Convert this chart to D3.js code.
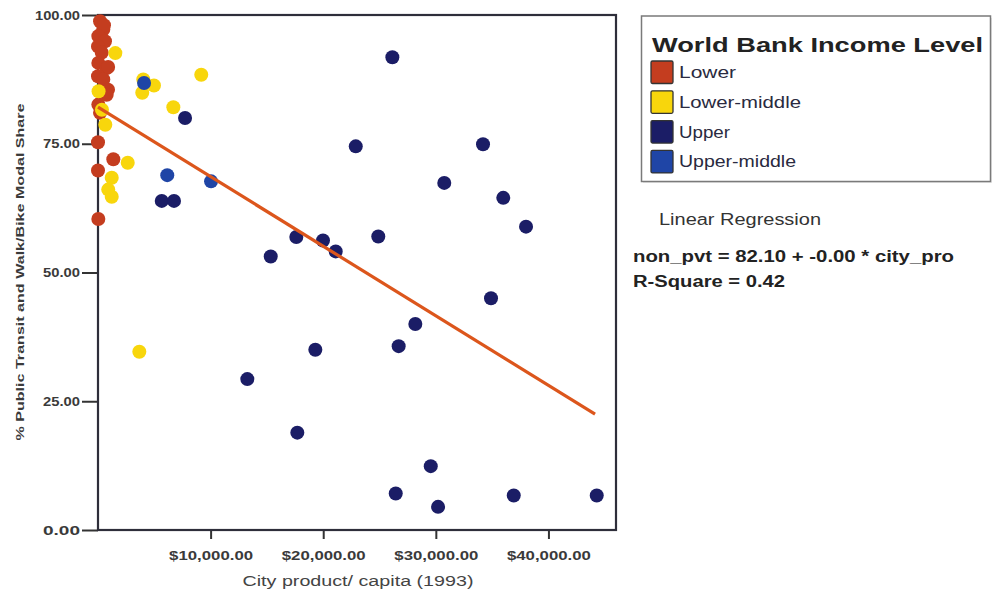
<!DOCTYPE html>
<html>
<head>
<meta charset="utf-8">
<script src="https://cdn.jsdelivr.net/npm/d3@7/dist/d3.min.js"></script>
<style>
  html, body { margin: 0; padding: 0; background: #fff; }
  svg { display: block; font-family: "Liberation Sans", Arial, sans-serif; }
</style>
</head>
<body>
<svg id="chart" width="993" height="598"></svg>
<script>
// Income groups, in legend order
const groups = ["Lower", "Lower-middle", "Upper", "Upper-middle"];
const groupColors = ["#c43d1f", "#f8d60c", "#1b1d66", "#1f45a6"];

// City product per capita (1993, US$) and public transit + walk/bike modal share (%)
const lowerX = [180, 470, 530, 30, 620, 0, 330, 30, 770, 900, 0, 470, 890, 770, 30, 180, 0, 1360, 0, 30];
const lowerY = [98.8, 97.2, 98.0, 95.9, 94.9, 93.9, 92.7, 90.7, 89.7, 89.9, 88.1, 87.5, 85.5, 84.5, 82.6, 81.0, 75.3, 72.0, 69.8, 60.4];

const lowerMidX = [1540, 50, 350, 650, 9170, 4020, 4970, 3930, 6690, 2640, 1220, 910, 1220, 3670];
const lowerMidY = [92.6, 85.2, 81.6, 78.7, 88.4, 87.5, 86.3, 84.9, 82.1, 71.3, 68.4, 66.1, 64.7, 34.6];

const upperX = [7730, 5660, 6750, 26140, 22890, 34190, 30750, 35990, 38010, 24890, 17610, 19980, 21110, 15340,
                34900, 28180, 26700, 19300, 13260, 17700, 29550, 26440, 30200, 36920, 44290];
const upperY = [80.0, 63.9, 63.9, 91.8, 74.5, 74.9, 67.4, 64.5, 58.9, 57.0, 56.9, 56.2, 54.1, 53.1,
                45.0, 40.0, 35.7, 35.0, 29.3, 18.9, 12.4, 7.1, 4.5, 6.7, 6.7];

const upperMidX = [4090, 6150, 10040];
const upperMidY = [86.8, 68.9, 67.7];

// Fitted linear regression: non_pvt = 82.10 + b * city_pro
const regIntercept = 82.10;
const regSlope = -0.00135;
const regRange = [0, 44140];
const rSquare = 0.42;

// Axis ticks
const xTicks = [10000, 20000, 30000, 40000];
const yTicks = [0, 25, 50, 75, 100];

const seriesX = [lowerX, lowerMidX, upperX, upperMidX];
const seriesY = [lowerY, lowerMidY, upperY, upperMidY];

const svg = d3.select("#chart");
const plotLeft = 98, plotRight = 616, plotTop = 15, plotBottom = 530;

const x = d3.scaleLinear().domain([0, 46000]).range([plotLeft, plotRight]);
const y = d3.scaleLinear().domain([0, 100]).range([plotBottom, plotTop]);

function label(sel, str, px, py, size, weight, len, anchor, fill) {
  const t = sel.append("text")
    .attr("x", px).attr("y", py)
    .attr("font-size", size)
    .attr("font-weight", weight || "normal")
    .attr("fill", fill || "#333")
    .attr("text-anchor", anchor || "start")
    .text(str);
  if (len) t.attr("textLength", len).attr("lengthAdjust", "spacingAndGlyphs");
  return t;
}

// Axes
const fmtMoney = d => "$" + d3.format(",.2f")(d);
const gx = svg.append("g").attr("transform", `translate(0,${plotBottom})`)
  .call(d3.axisBottom(x).tickValues(xTicks).tickFormat(fmtMoney).tickSize(9).tickPadding(11));
gx.selectAll("text").attr("font-size", 13.5).attr("font-weight", "bold").attr("fill", "#3a3a3a")
  .attr("font-family", "Liberation Sans, Arial, sans-serif")
  .attr("textLength", 84).attr("lengthAdjust", "spacingAndGlyphs");

const gy = svg.append("g").attr("transform", `translate(${plotLeft},0)`)
  .call(d3.axisLeft(y).tickValues(yTicks).tickFormat(d3.format(".2f")).tickSize(16).tickPadding(2));
gy.selectAll("text").attr("font-size", 13).attr("font-weight", "bold").attr("fill", "#3a3a3a")
  .attr("font-family", "Liberation Sans, Arial, sans-serif")
  .each(function (d) {
    d3.select(this).attr("textLength", d === 100 ? 45 : 37).attr("lengthAdjust", "spacingAndGlyphs");
  });

[gx, gy].forEach(g => {
  g.select(".domain").remove();
  g.selectAll(".tick line").attr("stroke", "#333").attr("stroke-width", 2);
});

// Plot frame
svg.append("rect")
  .attr("x", plotLeft).attr("y", plotTop)
  .attr("width", plotRight - plotLeft).attr("height", plotBottom - plotTop)
  .attr("fill", "none").attr("stroke", "#2e2e3a").attr("stroke-width", 2.2);

// Points
groups.forEach((gname, i) => {
  const pts = seriesX[i].map((v, j) => [v, seriesY[i][j]]);
  svg.append("g").attr("class", "series-" + i)
    .selectAll("circle").data(pts).join("circle")
    .attr("cx", d => x(d[0]))
    .attr("cy", d => y(d[1]))
    .attr("r", 7)
    .attr("fill", groupColors[i]);
});

// Regression line
const regLine = regRange.map(v => [v, regIntercept + regSlope * v]);
svg.append("path")
  .datum(regLine)
  .attr("d", d3.line().x(d => x(d[0])).y(d => y(d[1])))
  .attr("stroke", "#dc561c").attr("stroke-width", 3.2).attr("fill", "none");

// Axis titles
label(svg, "City product/ capita (1993)", 358, 586, 15.5, "normal", 231, "middle", "#444");
label(svg, "% Public Transit and Walk/Bike Modal Share", 0, 0, 11.5, "bold", 337, "middle", "#3a3a3a")
  .attr("transform", "translate(24,272) rotate(-90)");

// Legend
const lg = svg.append("g");
lg.append("rect").attr("x", 643).attr("y", 18).attr("width", 349).attr("height", 165)
  .attr("fill", "#d8d8d8").attr("opacity", 0.6);
lg.append("rect").attr("x", 641.5).attr("y", 16).attr("width", 349).attr("height", 165.5)
  .attr("fill", "#fff").attr("stroke", "#7a7a7a").attr("stroke-width", 1.5);
label(lg, "World Bank Income Level", 652, 52, 19.5, "bold", 331, "start", "#222");
const labelLens = [57, 122, 51, 117];
groups.forEach((gname, i) => {
  const yy = 61 + i * 29.8;
  lg.append("rect").attr("x", 651).attr("y", yy).attr("width", 22).attr("height", 22.5)
    .attr("fill", groupColors[i]).attr("stroke", "#333").attr("stroke-width", 1.3).attr("rx", 1.5);
  label(lg, gname, 679, yy + 17, 16, "normal", labelLens[i], "start", "#2a2a40");
});

// Regression summary
label(svg, "Linear Regression", 659, 225, 16, "normal", 162, "start", "#333");
label(svg, `non_pvt = ${regIntercept.toFixed(2)} + ${regSlope.toFixed(2)} * city_pro`,
  633, 262, 16, "bold", 321, "start", "#222");
label(svg, `R-Square = ${rSquare.toFixed(2)}`, 633, 287, 16, "bold", 152, "start", "#222");
</script>
</body>
</html>
